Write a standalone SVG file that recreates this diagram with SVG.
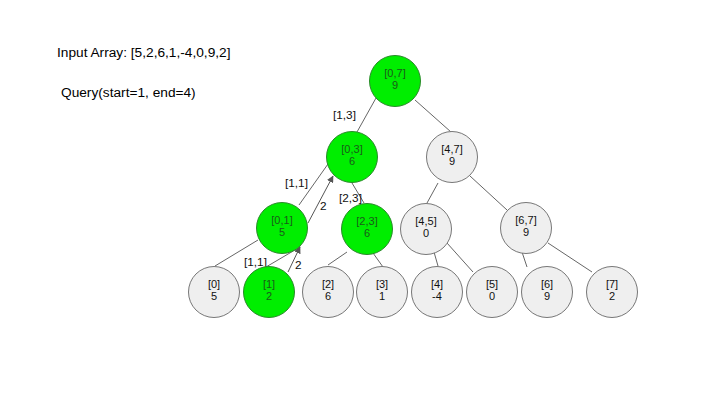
<svg xmlns="http://www.w3.org/2000/svg" width="720" height="405" viewBox="0 0 720 405">
<style>
text{font-family:"Liberation Sans",Arial,sans-serif;}
.t{font-size:13.7px;fill:#000;}
.g circle{fill:#00ee00;stroke:#2a8a2a;stroke-width:1;}
.g text{fill:#1a5a1a;font-size:11px;text-anchor:middle;}
.w circle{fill:#efefef;stroke:#777;stroke-width:1;}
.w text{fill:#111;font-size:11px;text-anchor:middle;}
.e line{stroke:#666;stroke-width:1;}
.e line.a{stroke:#555;marker-end:url(#ah);}
.lb{font-size:11.8px;fill:#111;}
</style>
<defs>
<marker id="ah" viewBox="0 0 10 10" refX="9" refY="5" markerWidth="7" markerHeight="7" orient="auto" markerUnits="userSpaceOnUse">
<path d="M0,0 L10,5 L0,10 z" fill="#555"/>
</marker>
</defs>
<rect width="720" height="405" fill="#fff"/>
<text class="t" x="57" y="57">Input Array: [5,2,6,1,-4,0,9,2]</text>
<text class="t" x="61" y="97">Query(start=1, end=4)</text>
<g id="connectors" class="e">
<line x1="376" y1="98" x2="357" y2="132"/>
<line x1="415" y1="100" x2="451" y2="132"/>
<line x1="352" y1="183" x2="364" y2="203"/>
<line x1="438" y1="183" x2="427" y2="203"/>
<line x1="470" y1="176" x2="507" y2="210"/>
<line x1="299" y1="205" x2="328" y2="164"/>
<line class="a" x1="308" y1="223" x2="333" y2="176"/>
<line x1="215" y1="266" x2="258" y2="240"/>
<line x1="266" y1="267" x2="300" y2="247"/>
<line class="a" x1="288" y1="272" x2="300" y2="247"/>
<line x1="328" y1="265" x2="347" y2="252"/>
<line x1="373" y1="253" x2="383" y2="267"/>
<line x1="434" y1="252" x2="438" y2="266"/>
<line x1="447" y1="243" x2="473" y2="272"/>
<line x1="522" y1="252" x2="527" y2="267"/>
<line x1="548" y1="243" x2="592" y2="272"/>
<text class="lb" x="333" y="119">[1,3]</text>
<text class="lb" x="339" y="202">[2,3]</text>
<text class="lb" x="285" y="187">[1,1]</text>
<text class="lb" x="320" y="210">2</text>
<text class="lb" x="244" y="266">[1,1]</text>
<text class="lb" x="295" y="269">2</text>
</g>
<g id="n07" class="g"><circle cx="395" cy="81" r="25.5"/><text x="395" y="77">[0,7]</text><text x="395" y="89">9</text></g>
<g id="n03" class="g"><circle cx="352" cy="157" r="25.5"/><text x="352" y="153">[0,3]</text><text x="352" y="165">6</text></g>
<g id="n47" class="w"><circle cx="452" cy="157" r="25.5"/><text x="452" y="153">[4,7]</text><text x="452" y="165">9</text></g>
<g id="n01" class="g"><circle cx="282" cy="228" r="25.5"/><text x="282" y="224">[0,1]</text><text x="282" y="236">5</text></g>
<g id="n23" class="g"><circle cx="367" cy="229" r="25.5"/><text x="367" y="225">[2,3]</text><text x="367" y="237">6</text></g>
<g id="n45" class="w"><circle cx="426" cy="229" r="25.5"/><text x="426" y="225">[4,5]</text><text x="426" y="237">0</text></g>
<g id="n67" class="w"><circle cx="526" cy="228" r="25.5"/><text x="526" y="224">[6,7]</text><text x="526" y="236">9</text></g>
<g id="l0" class="w"><circle cx="214" cy="292" r="25.5"/><text x="214" y="288">[0]</text><text x="214" y="300">5</text></g>
<g id="l1" class="g"><circle cx="269" cy="292" r="25.5"/><text x="269" y="288">[1]</text><text x="269" y="300">2</text></g>
<g id="l2" class="w"><circle cx="328" cy="292" r="25.5"/><text x="328" y="288">[2]</text><text x="328" y="300">6</text></g>
<g id="l3" class="w"><circle cx="382" cy="292" r="25.5"/><text x="382" y="288">[3]</text><text x="382" y="300">1</text></g>
<g id="l4" class="w"><circle cx="437" cy="292" r="25.5"/><text x="437" y="288">[4]</text><text x="437" y="300">-4</text></g>
<g id="l5" class="w"><circle cx="492" cy="292" r="25.5"/><text x="492" y="288">[5]</text><text x="492" y="300">0</text></g>
<g id="l6" class="w"><circle cx="547" cy="292" r="25.5"/><text x="547" y="288">[6]</text><text x="547" y="300">9</text></g>
<g id="l7" class="w"><circle cx="612" cy="292" r="25.5"/><text x="612" y="288">[7]</text><text x="612" y="300">2</text></g>
</svg>
